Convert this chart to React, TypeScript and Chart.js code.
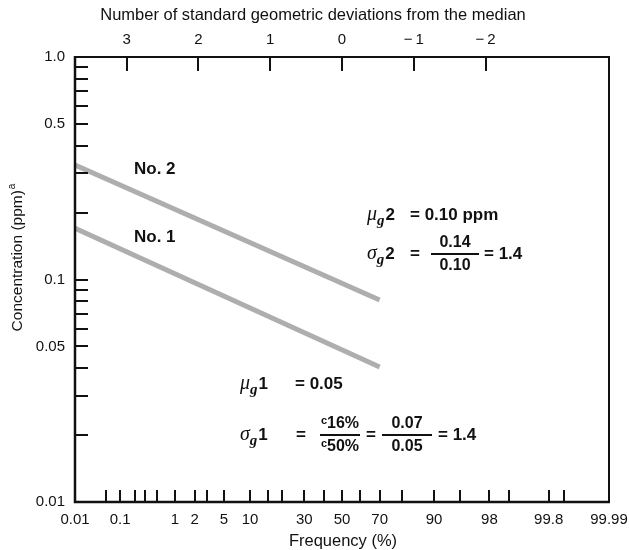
import React, { useEffect, useRef } from 'react';
import {
  Chart,
  Scale,
  LinearScale,
  LogarithmicScale,
  LineController,
  LineElement,
  PointElement,
} from 'chart.js';

// ---------- data ----------
const freqLabelValues = [0.01, 0.1, 1, 2, 5, 10, 30, 50, 70, 90, 98, 99.8, 99.99];
const freqTickMarks = [0.05, 0.1, 0.2, 0.3, 0.5, 1, 2, 3, 5, 10, 15, 20, 30, 40, 50, 60, 70, 80, 90, 95, 98, 99, 99.8, 99.9];
const sdValues = [3, 2, 1, 0, -1, -2];
const concLabelValues = [0.01, 0.05, 0.1, 0.5, 1.0];
const concLabelTexts = ['0.01', '0.05', '0.1', '0.5', '1.0'];
const concTickMarks = [0.02, 0.03, 0.04, 0.05, 0.06, 0.07, 0.08, 0.09, 0.1, 0.2, 0.3, 0.4, 0.5, 0.6, 0.7, 0.8, 0.9];

const no2Freq = [0.01, 70];
const no2Conc = [0.327, 0.0809];
const no1Freq = [0.01, 70];
const no1Conc = [0.17, 0.0404];

const FREQ_MIN = 0.01;
const FREQ_MAX = 99.99;
const CONC_MIN = 0.01;
const CONC_MAX = 1.0;

// ---------- helpers ----------
function probit(p: number): number {
  const a = [-3.969683028665376e1, 2.209460984245205e2, -2.759285104469687e2, 1.38357751867269e2, -3.066479806614716e1, 2.506628277459239];
  const b = [-5.447609879822406e1, 1.615858368580409e2, -1.556989798598866e2, 6.680131188771972e1, -1.328068155288572e1];
  const c = [-7.784894002430293e-3, -3.223964580411365e-1, -2.400758277161838, -2.549732539343734, 4.374664141464968, 2.938163982698783];
  const d = [7.784695709041462e-3, 3.224671290700398e-1, 2.445134137142996, 3.754408661907416];
  const pl = 0.02425;
  if (p < pl) {
    const q = Math.sqrt(-2 * Math.log(p));
    return (((((c[0] * q + c[1]) * q + c[2]) * q + c[3]) * q + c[4]) * q + c[5]) / ((((d[0] * q + d[1]) * q + d[2]) * q + d[3]) * q + 1);
  }
  if (p <= 1 - pl) {
    const q = p - 0.5;
    const r = q * q;
    return ((((((a[0] * r + a[1]) * r + a[2]) * r + a[3]) * r + a[4]) * r + a[5]) * q) / (((((b[0] * r + b[1]) * r + b[2]) * r + b[3]) * r + b[4]) * r + 1);
  }
  const q = Math.sqrt(-2 * Math.log(1 - p));
  return -(((((c[0] * q + c[1]) * q + c[2]) * q + c[3]) * q + c[4]) * q + c[5]) / ((((d[0] * q + d[1]) * q + d[2]) * q + d[3]) * q + 1);
}

function normCdf(z: number): number {
  const t = 1 / (1 + 0.3275911 * Math.abs(z) / Math.SQRT2);
  const y = 1 - (((((1.061405429 * t - 1.453152027) * t) + 1.421413741) * t - 0.284496736) * t + 0.254829592) * t * Math.exp(-(z * z) / 2);
  return z >= 0 ? 0.5 * (1 + y) : 0.5 * (1 - y);
}

// Normal-probability (percent) scale
class ProbabilityScale extends Scale {
  static id = 'probability';
  static defaults = {};
  _zmin = 0;
  _zmax = 1;
  determineDataLimits() {
    const o: any = this.options;
    this.min = o.min ?? FREQ_MIN;
    this.max = o.max ?? FREQ_MAX;
  }
  buildTicks() {
    const all = Array.from(new Set([...freqLabelValues, ...freqTickMarks])).sort((p, q) => p - q);
    return all.map((v) => ({ value: v }));
  }
  getLabelForValue(v: number) {
    return String(v);
  }
  configure() {
    super.configure();
    this._zmin = probit(this.min / 100);
    this._zmax = probit(this.max / 100);
  }
  getPixelForValue(v: number) {
    const z = probit(v / 100);
    return this.getPixelForDecimal((z - this._zmin) / (this._zmax - this._zmin));
  }
  getValueForPixel(px: number) {
    const dec = this.getDecimalForPixel(px);
    return normCdf(this._zmin + dec * (this._zmax - this._zmin)) * 100;
  }
}

Chart.register(LinearScale, LogarithmicScale, LineController, LineElement, PointElement, ProbabilityScale as any);

const SANS = "'Liberation Sans', Arial, Helvetica, sans-serif";
const SERIF = "'Liberation Serif', 'Times New Roman', serif";

function txt(ctx: CanvasRenderingContext2D, s: string, x: number, y: number, font: string, align: CanvasTextAlign = 'left') {
  ctx.font = font;
  ctx.textAlign = align;
  ctx.textBaseline = 'middle';
  ctx.fillText(s, x, y);
  return ctx.measureText(s).width;
}

const BOLD = `bold 17px ${SANS}`;
const BOLD_F = `bold 16px ${SANS}`;

function greekSymbol(ctx: CanvasRenderingContext2D, sym: string, idx: string, x: number, y: number) {
  let w = txt(ctx, sym, x, y, `italic 20px ${SERIF}`);
  w += txt(ctx, 'g', x + w, y + 6, `italic bold 15px ${SERIF}`);
  txt(ctx, idx, x + w + 1, y, BOLD);
}

function fraction(ctx: CanvasRenderingContext2D, num: string, den: string, cx: number, y: number, barW: number, withC = false) {
  ctx.font = BOLD_F;
  const wn = ctx.measureText(num).width;
  const wd = ctx.measureText(den).width;
  const cw = withC ? 6 : 0;
  if (withC) {
    txt(ctx, 'c', cx - (wn + cw) / 2, y - 14, `bold 11px ${SANS}`);
    txt(ctx, num, cx - (wn + cw) / 2 + cw, y - 11, BOLD_F);
    txt(ctx, 'c', cx - (wd + cw) / 2, y + 9, `bold 11px ${SANS}`);
    txt(ctx, den, cx - (wd + cw) / 2 + cw, y + 12, BOLD_F);
  } else {
    txt(ctx, num, cx, y - 11, BOLD_F, 'center');
    txt(ctx, den, cx, y + 12, BOLD_F, 'center');
  }
  ctx.fillRect(cx - barW / 2, y - 1, barW, 2);
}

const decorPlugin = {
  id: 'decor',
  afterDraw(chart: any) {
    const { ctx, chartArea: a, scales } = chart;
    const xs = scales.x;
    const ys = scales.y;
    const x2 = scales.x2;
    ctx.save();
    ctx.strokeStyle = '#111';
    ctx.fillStyle = '#111';

    // inward tick marks
    ctx.lineWidth = 2;
    ctx.beginPath();
    concTickMarks.forEach((v) => {
      const py = Math.round(ys.getPixelForValue(v));
      ctx.moveTo(a.left, py);
      ctx.lineTo(a.left + 13, py);
    });
    freqTickMarks.forEach((p) => {
      const px = Math.round(xs.getPixelForValue(p));
      ctx.moveTo(px, a.bottom);
      ctx.lineTo(px, a.bottom - 12);
    });
    sdValues.forEach((s) => {
      const px = Math.round(x2.getPixelForValue(s));
      ctx.moveTo(px, a.top);
      ctx.lineTo(px, a.top + 14);
    });
    ctx.stroke();

    // frame
    ctx.lineWidth = 2;
    ctx.beginPath();
    ctx.moveTo(a.left, a.top);
    ctx.lineTo(a.right, a.top);
    ctx.lineTo(a.right, a.bottom);
    ctx.stroke();
    ctx.lineWidth = 2.5;
    ctx.beginPath();
    ctx.moveTo(a.left, a.top - 1);
    ctx.lineTo(a.left, a.bottom);
    ctx.lineTo(a.right + 1, a.bottom);
    ctx.stroke();

    // axis titles
    const TITLE = `16.5px ${SANS}`;
    txt(ctx, 'Number of standard geometric deviations from the median', 313, 15, TITLE, 'center');
    txt(ctx, 'Frequency (%)', 343, 541, TITLE, 'center');
    ctx.save();
    ctx.translate(18, 258);
    ctx.rotate(-Math.PI / 2);
    const YT = `15.5px ${SANS}`;
    ctx.font = YT;
    const main = 'Concentration (ppm)';
    const wm = ctx.measureText(main).width;
    ctx.font = `10px ${SANS}`;
    const wa = ctx.measureText('a').width;
    const start = -(wm + wa) / 2;
    txt(ctx, main, start, 0, YT);
    txt(ctx, 'a', start + wm + 1, -6, `10px ${SANS}`);
    ctx.restore();

    // line labels
    txt(ctx, 'No. 2', 134, 169, BOLD);
    txt(ctx, 'No. 1', 134, 237, BOLD);

    // statistics for No. 2
    greekSymbol(ctx, 'μ', '2', 367, 215);
    txt(ctx, '= 0.10 ppm', 410, 215, BOLD);
    greekSymbol(ctx, 'σ', '2', 367, 254);
    txt(ctx, '=', 410, 254, BOLD);
    fraction(ctx, '0.14', '0.10', 455, 254, 48);
    txt(ctx, '= 1.4', 484, 254, BOLD);

    // statistics for No. 1
    greekSymbol(ctx, 'μ', '1', 240, 384);
    txt(ctx, '= 0.05', 295, 384, BOLD);
    greekSymbol(ctx, 'σ', '1', 240, 435);
    txt(ctx, '=', 296, 435, BOLD);
    fraction(ctx, '16%', '50%', 340, 435, 40, true);
    txt(ctx, '=', 366, 435, BOLD);
    fraction(ctx, '0.07', '0.05', 407, 435, 50);
    txt(ctx, '= 1.4', 438, 435, BOLD);

    ctx.restore();
  },
};

export default function App() {
  const ref = useRef<HTMLCanvasElement>(null);
  useEffect(() => {
    if (!ref.current) return;
    const lineStyle = {
      borderColor: '#aeaeae',
      borderWidth: 5,
      pointRadius: 0,
      borderCapStyle: 'butt' as const,
      fill: false,
      tension: 0,
    };
    const noPad = (s: any) => {
      s.paddingLeft = 0;
      s.paddingRight = 0;
    };
    const chart = new Chart(ref.current, {
      type: 'line',
      data: {
        datasets: [
          { label: 'No. 2', data: no2Freq.map((f, i) => ({ x: f, y: no2Conc[i] })), xAxisID: 'x', yAxisID: 'y', ...lineStyle },
          { label: 'No. 1', data: no1Freq.map((f, i) => ({ x: f, y: no1Conc[i] })), xAxisID: 'x', yAxisID: 'y', ...lineStyle },
        ],
      },
      options: {
        animation: false,
        responsive: false,
        events: [],
        layout: { padding: { left: 0, right: 20, top: 0, bottom: 0 } },
        plugins: { legend: { display: false }, tooltip: { enabled: false } } as any,
        scales: {
          x: {
            type: 'probability' as any,
            position: 'bottom',
            min: FREQ_MIN,
            max: FREQ_MAX,
            grid: { display: false, drawTicks: false, tickLength: 0 },
            border: { display: false },
            ticks: {
              autoSkip: false,
              maxRotation: 0,
              minRotation: 0,
              padding: 9,
              color: '#111',
              font: { family: SANS, size: 15 },
              callback: (v: any) => (freqLabelValues.includes(v) ? String(v) : ''),
            },
            afterFit: (s: any) => {
              s.height = 48;
              noPad(s);
            },
          } as any,
          x2: {
            type: 'linear',
            position: 'top',
            reverse: true,
            min: probit(FREQ_MIN / 100),
            max: probit(FREQ_MAX / 100),
            grid: { display: false, drawTicks: false, tickLength: 0 },
            border: { display: false },
            afterBuildTicks: (s: any) => {
              s.ticks = sdValues.map((v) => ({ value: v }));
            },
            ticks: {
              autoSkip: false,
              maxRotation: 0,
              minRotation: 0,
              padding: 8,
              color: '#111',
              font: { family: SANS, size: 15 },
              callback: (v: any) => (v < 0 ? '\u2212\u2009' + Math.abs(v) : String(v)),
            },
            afterFit: (s: any) => {
              s.height = 57;
              noPad(s);
            },
          } as any,
          y: {
            type: 'logarithmic',
            position: 'left',
            min: CONC_MIN,
            max: CONC_MAX,
            grid: { display: false, drawTicks: false, tickLength: 0 },
            border: { display: false },
            afterBuildTicks: (s: any) => {
              s.ticks = [...concLabelValues, ...concTickMarks]
                .filter((v, i, arr) => arr.indexOf(v) === i)
                .sort((p, q) => p - q)
                .map((v) => ({ value: v }));
            },
            ticks: {
              autoSkip: false,
              padding: 10,
              color: '#111',
              font: { family: SANS, size: 15 },
              callback: (v: any) => {
                const i = concLabelValues.findIndex((c) => Math.abs(c - v) < 1e-9);
                return i >= 0 ? concLabelTexts[i] : '';
              },
            },
            afterFit: (s: any) => {
              s.width = 75;
            },
          } as any,
        },
      },
      plugins: [decorPlugin as any],
    });
    return () => chart.destroy();
  }, []);

  return (
    <div style={{ position: 'absolute', left: 0, top: 0, width: 629, height: 550, background: '#fff' }}>
      <canvas ref={ref} width={629} height={550} style={{ display: 'block' }} />
    </div>
  );
}
